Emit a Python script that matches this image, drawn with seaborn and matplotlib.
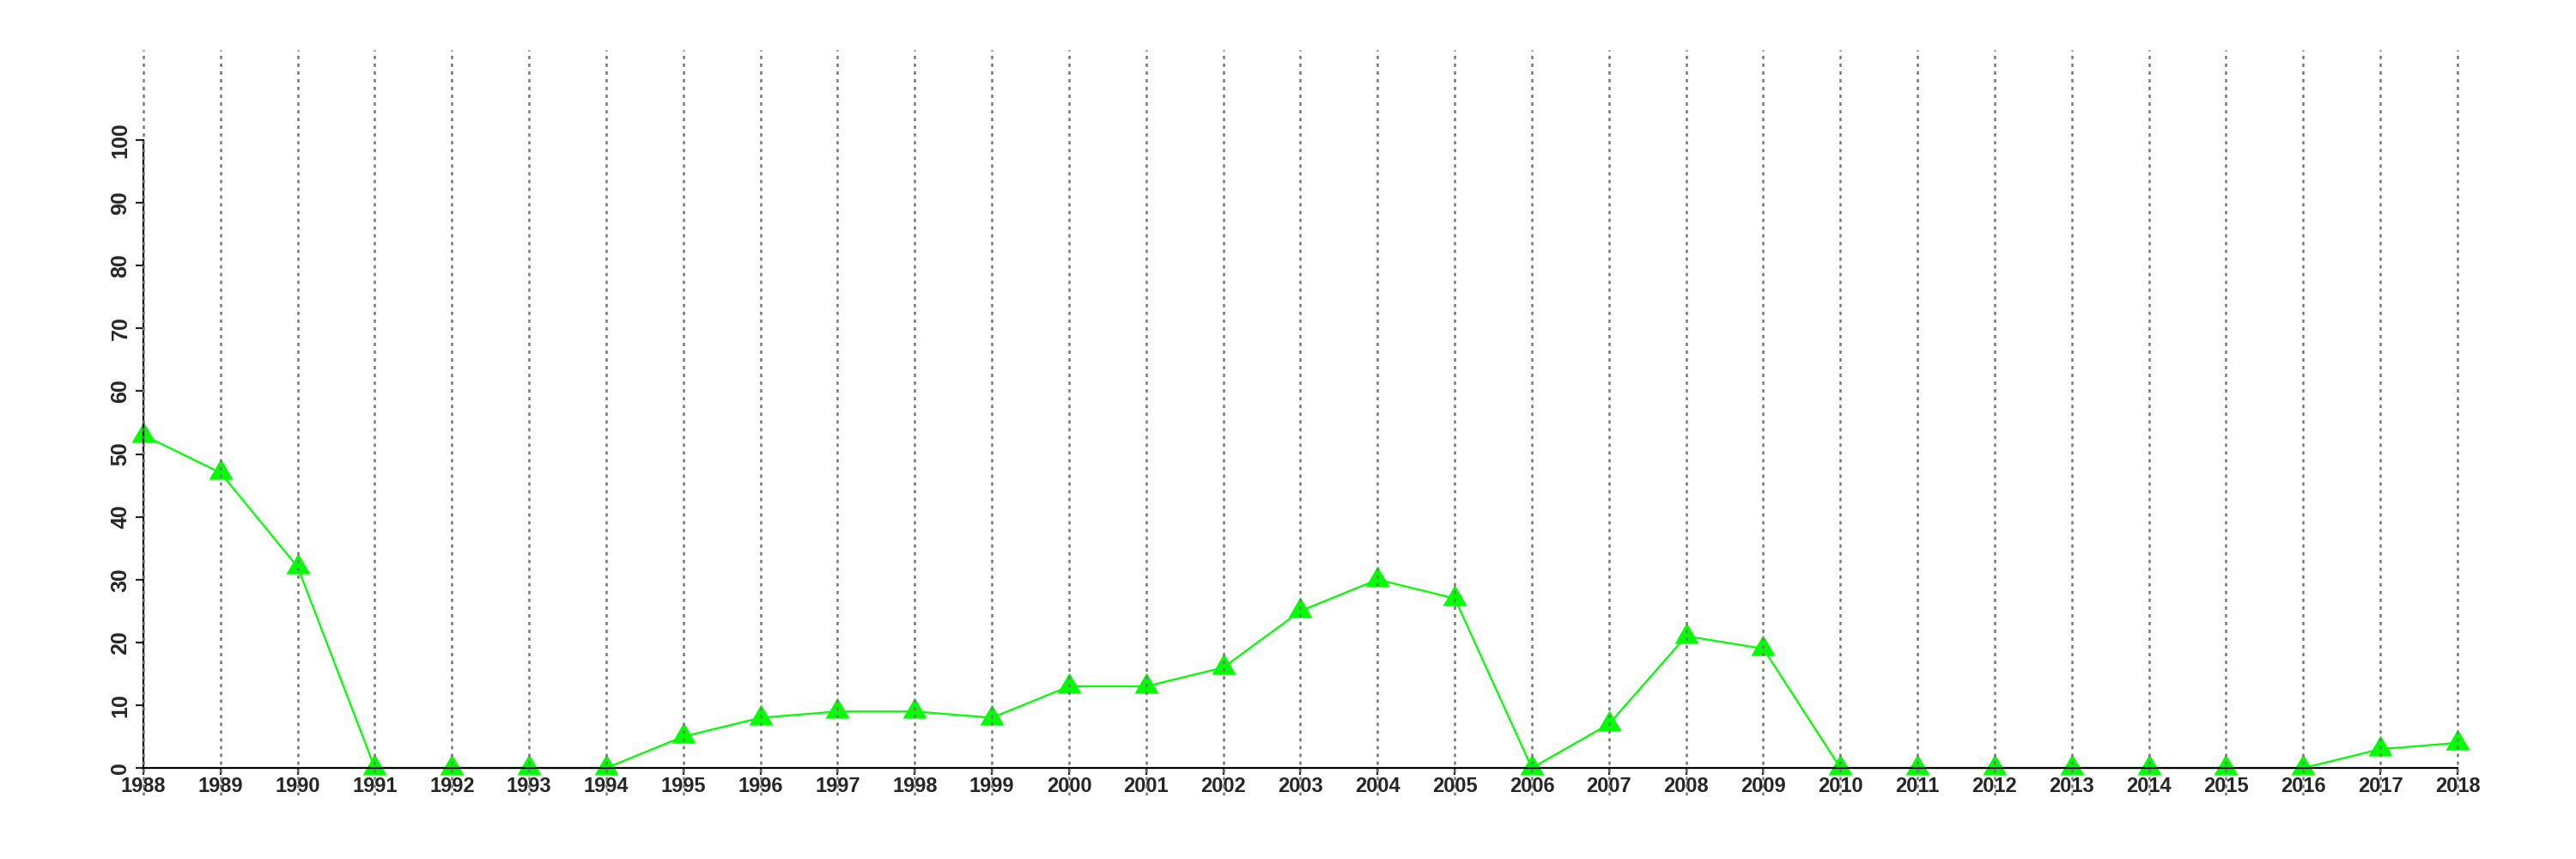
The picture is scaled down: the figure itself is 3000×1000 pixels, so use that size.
import matplotlib
matplotlib.use("Agg")
import matplotlib.pyplot as plt
import seaborn as sns
import pandas as pd

years = list(range(1988, 2019))
values = [53, 47, 32, 0, 0, 0, 0, 5, 8, 9, 9, 8, 13, 13, 16, 25, 30, 27,
          0, 7, 21, 19, 0, 0, 0, 0, 0, 0, 0, 3, 4]
y_ticks = list(range(0, 101, 10))

sns.set_style("white")
plt.rcParams['font.family'] = ['Liberation Sans', 'DejaVu Sans']
plt.rcParams['lines.scale_dashes'] = False

df = pd.DataFrame({"year": years, "value": values})

fig = plt.figure(figsize=(30, 10), dpi=100)
ax = fig.add_axes([0.01973, 0.0738, 0.9702, 0.8685])

tri = [(0, 1.1547), (-1, -0.5774), (1, -0.5774)]
sns.lineplot(data=df, x="year", y="value", ax=ax, color="#00FF00",
             linewidth=1.6, marker=tri, markersize=23.3,
             markeredgewidth=0, markerfacecolor="#00FF00", zorder=2)

x0, x1 = years[0], years[-1]
ax.set_xlim(x0 - 0.04 * (x1 - x0), x1 + 0.04 * (x1 - x0))
ax.set_ylim(-0.04 * 110, 110 * 1.04)

ax.vlines(years, -0.04 * 110, 110 * 1.04, colors="#777777", linewidth=1.8,
          linestyles=(0, (2.8, 3.7)), zorder=5)

for s in ["top", "right"]:
    ax.spines[s].set_visible(False)
ax.spines["left"].set_position(("data", x0))
ax.spines["left"].set_bounds(0, 100)
ax.spines["bottom"].set_position(("data", 0))
ax.spines["bottom"].set_bounds(x0, x1)
for s in ["left", "bottom"]:
    ax.spines[s].set_linewidth(1.6)
    ax.spines[s].set_color("black")
    ax.spines[s].set_zorder(3)

ax.set_xticks(years)
ax.set_xticklabels([str(y) for y in years])
ax.set_yticks(y_ticks)
ax.set_yticklabels([str(v) for v in y_ticks], rotation=90, va="center")
ax.tick_params(axis="x", direction="out", length=6, width=1.6, pad=1.5,
               labelsize=17, bottom=True)
ax.tick_params(axis="y", direction="out", length=6.5, width=1.6, pad=4,
               labelsize=18, left=True)
for lbl in ax.get_xticklabels() + ax.get_yticklabels():
    lbl.set_fontweight("bold")

ax.set_xlabel("")
ax.set_ylabel("")
ax.grid(False)

fig.savefig("out.png", dpi=100)
